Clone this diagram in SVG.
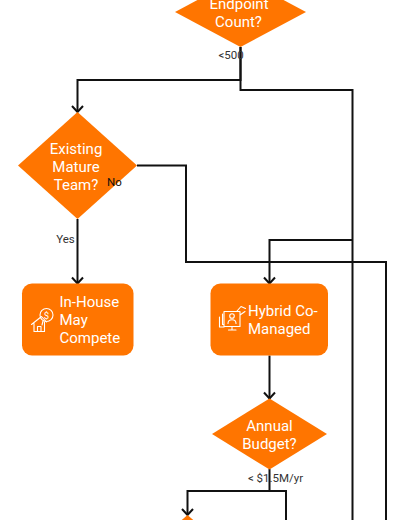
<svg xmlns="http://www.w3.org/2000/svg" width="404" height="520" viewBox="0 0 404 520">
<style>
.n{fill:#ff7500}
.t{font-family:Roboto,"Liberation Sans",sans-serif;font-size:15px;fill:#fff;text-anchor:middle}
.s{text-anchor:start}
.l{font-family:Roboto,"Liberation Sans",sans-serif;font-size:11.500px;fill:#333;text-anchor:middle}
.c{fill:none;stroke:#111;stroke-width:2}
.i{fill:none;stroke:#fff;stroke-width:1.1;stroke-linejoin:round;stroke-linecap:round}
</style>
<defs><marker id="a" markerUnits="userSpaceOnUse" markerWidth="14" markerHeight="14" refX="11" refY="7" orient="auto"><path d="M5 1.500L11 7L5 12.500" fill="none" stroke="#111" stroke-width="2"/></marker></defs>
<g id="connectors">
<path class="c" marker-end="url(#a)" d="M240.500 47V80H77.500V112"/>
<path class="c" d="M240.500 47V90H352.500V520"/>
<path class="c" marker-end="url(#a)" d="M77.500 219V283.500"/>
<path class="c" d="M137 165.500H186V262H386V520"/>
<path class="c" marker-end="url(#a)" d="M352.500 240H269.500V283.500"/>
<path class="c" marker-end="url(#a)" d="M269.500 355.500V398.500"/>
<path class="c" marker-end="url(#a)" d="M269.500 469V491H187.500V515"/>
<path class="c" d="M269.500 491H286V520"/>
</g>
<g id="endpoint"><path class="n" d="M240.500 -23L306 12L240.500 47L175 12Z"/><text class="t" x="239" y="9">Endpoint</text><text class="t" x="238.500" y="27">Count?</text></g>
<g id="existing"><path class="n" d="M77.500 112L137 165.500L77.500 219L18 165.500Z"/><text class="t" x="76" y="153.500">Existing</text><text class="t" x="76" y="171.500">Mature</text><text class="t" x="76" y="189.500">Team?</text></g>
<g id="inhouse"><rect class="n" x="22" y="283.500" width="111.500" height="72" rx="10"/>
<circle class="i" cx="46.500" cy="315" r="6.500"/><text x="46.500" y="318.500" style="font-family:Roboto,'Liberation Sans',sans-serif;font-size:9.500px;fill:#fff;text-anchor:middle">$</text><path class="i" d="M43 321L42 325M31.500 324.500L41.500 316.500L46.500 322M34 323.500V331.500H44.500V322M37.500 331.500V326.500H41V331.500"/>
<text class="t s" x="59.500" y="307">In-House</text><text class="t s" x="59.500" y="325">May</text><text class="t s" x="59.500" y="343">Compete</text></g>
<g id="hybrid"><rect class="n" x="210.500" y="283.500" width="117.500" height="72" rx="10"/>
<path class="i" d="M219.500 317V327H224M222.500 314V324.500H224M224 311.500H240V326.500H224ZM228.500 330H236M232 326.500V330M237 311L241 306.500L245.500 308.500M240 315L245 311.500"/><circle class="i" cx="232" cy="316" r="2.300"/><path class="i" d="M228 323.500c0-5 8-5 8 0"/>
<text class="t s" x="248" y="316">Hybrid Co-</text><text class="t s" x="248" y="334">Managed</text></g>
<g id="budget"><path class="n" d="M269.500 398.500L327 434L269.500 469.500L212 434Z"/><text class="t" x="269.500" y="430.500">Annual</text><text class="t" x="269.500" y="448.500">Budget?</text></g>
<g id="lower"><path class="n" d="M187.500 515L206 531H169Z"/></g>
<text class="l" x="231" y="59">&lt;500</text>
<text class="l" x="65.500" y="243">Yes</text>
<text class="l" x="114.500" y="186" style="fill:#111">No</text>
<text class="l" x="275.500" y="481.500">&lt; $1.5M/yr</text>
</svg>
